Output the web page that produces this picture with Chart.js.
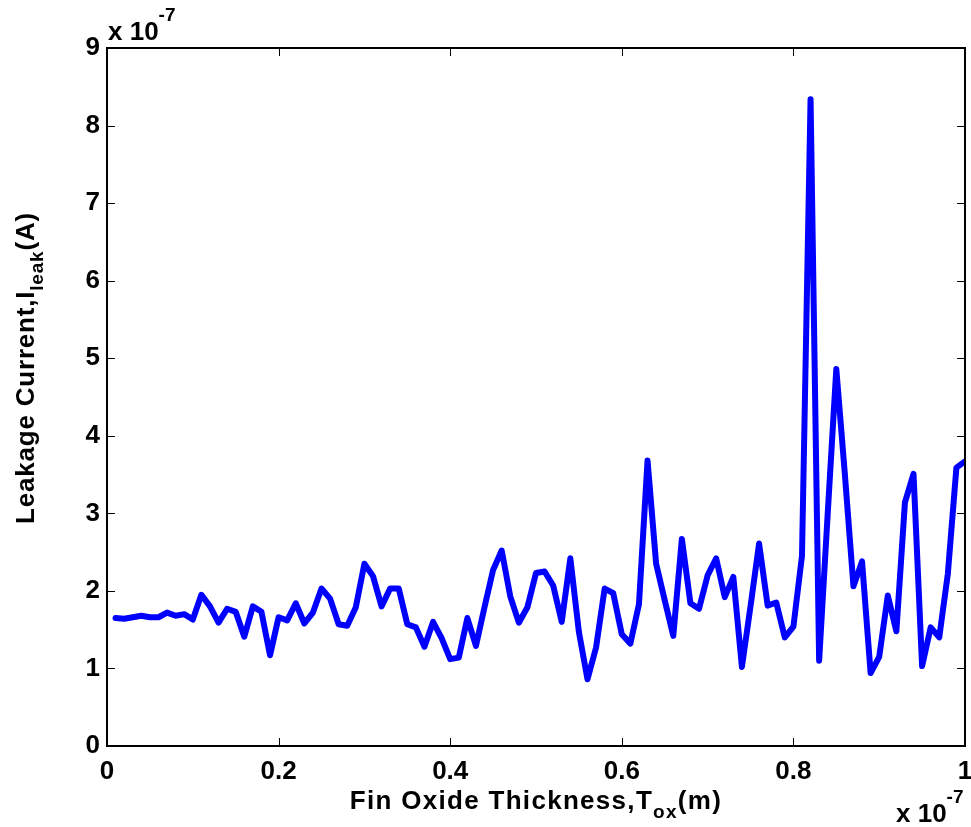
<!DOCTYPE html>
<html>
<head>
<meta charset="utf-8">
<script src="https://cdn.jsdelivr.net/npm/chart.js"></script>
<style>
  html, body { margin: 0; padding: 0; background: #fff; }
  canvas { display: block; }
</style>
</head>
<body>
<canvas id="myChart" width="971" height="827"></canvas>
<script>
// fin oxide thickness (x 1e-7 m)
const thickness = [
  0.01, 0.02, 0.03, 0.04, 0.05, 0.06, 0.07, 0.08, 0.09, 0.10,
  0.11, 0.12, 0.13, 0.14, 0.15, 0.16, 0.17, 0.18, 0.19, 0.20,
  0.21, 0.22, 0.23, 0.24, 0.25, 0.26, 0.27, 0.28, 0.29, 0.30,
  0.31, 0.32, 0.33, 0.34, 0.35, 0.36, 0.37, 0.38, 0.39, 0.40,
  0.41, 0.42, 0.43, 0.44, 0.45, 0.46, 0.47, 0.48, 0.49, 0.50,
  0.51, 0.52, 0.53, 0.54, 0.55, 0.56, 0.57, 0.58, 0.59, 0.60,
  0.61, 0.62, 0.63, 0.64, 0.65, 0.66, 0.67, 0.68, 0.69, 0.70,
  0.71, 0.72, 0.73, 0.74, 0.75, 0.76, 0.77, 0.78, 0.79, 0.80,
  0.81, 0.82, 0.83, 0.84, 0.85, 0.86, 0.87, 0.88, 0.89, 0.90,
  0.91, 0.92, 0.93, 0.94, 0.95, 0.96, 0.97, 0.98, 0.99, 1.00
];

// leakage current (x 1e-7 A)
const leakage = [
  1.65, 1.64, 1.66, 1.68, 1.66, 1.66, 1.72, 1.68, 1.70, 1.63,
  1.95, 1.80, 1.59, 1.77, 1.73, 1.41, 1.80, 1.73, 1.17, 1.66,
  1.62, 1.84, 1.58, 1.72, 2.03, 1.90, 1.57, 1.55, 1.79, 2.35,
  2.19, 1.80, 2.03, 2.03, 1.57, 1.53, 1.28, 1.60, 1.39, 1.12,
  1.14, 1.65, 1.29, 1.79, 2.27, 2.52, 1.93, 1.59, 1.79, 2.23,
  2.25, 2.07, 1.60, 2.42, 1.47, 0.86, 1.27, 2.03, 1.97, 1.44,
  1.32, 1.83, 3.68, 2.35, 1.88, 1.42, 2.67, 1.84, 1.77, 2.20,
  2.42, 1.92, 2.18, 1.02, 1.80, 2.61, 1.81, 1.85, 1.40, 1.54,
  2.45, 8.34, 1.10, 3.00, 4.86, 3.50, 2.06, 2.38, 0.94, 1.15,
  1.94, 1.48, 3.14, 3.51, 1.03, 1.53, 1.40, 2.22, 3.59, 3.67
];

const xTicks = [0, 0.2, 0.4, 0.6, 0.8, 1];
const yTicks = [0, 1, 2, 3, 4, 5, 6, 7, 8, 9];

const FONT = '"Liberation Sans", Arial, Helvetica, sans-serif';

// draw a label made of normal / subscript / superscript pieces, centred on cx
function drawRich(ctx, parts, cx, baseY, size, align, spacing) {
  ctx.letterSpacing = (spacing || 0) + 'px';
  let total = 0;
  parts.forEach(p => {
    const s = p.sub || p.sup ? Math.round(size * 0.72) : size;
    ctx.font = 'bold ' + s + 'px ' + FONT;
    p._w = ctx.measureText(p.text).width;
    p._s = s;
    total += p._w;
  });
  let x = align === 'left' ? cx : cx - total / 2;
  ctx.textAlign = 'left';
  ctx.textBaseline = 'alphabetic';
  parts.forEach(p => {
    ctx.font = 'bold ' + p._s + 'px ' + FONT;
    let y = baseY;
    if (p.sub) y += size * 0.36;
    if (p.sup) y -= size * 0.75;
    ctx.fillText(p.text, x, y);
    x += p._w;
  });
  ctx.letterSpacing = '0px';
}

const matlabAxes = {
  id: 'matlabAxes',
  afterDraw(chart) {
    const { ctx, chartArea: a, scales } = chart;
    ctx.save();
    ctx.strokeStyle = '#000';
    ctx.lineWidth = 2;
    ctx.strokeRect(a.left, a.top, a.right - a.left, a.bottom - a.top);

    // inward ticks on all four sides
    ctx.lineWidth = 1;
    const tl = 8;
    xTicks.forEach(v => {
      const px = Math.round(scales.x.getPixelForValue(v)) + 0.5;
      ctx.beginPath();
      ctx.moveTo(px, a.bottom); ctx.lineTo(px, a.bottom - tl);
      ctx.moveTo(px, a.top); ctx.lineTo(px, a.top + tl);
      ctx.stroke();
    });
    yTicks.forEach(v => {
      const py = Math.round(scales.y.getPixelForValue(v)) + 0.5;
      ctx.beginPath();
      ctx.moveTo(a.left, py); ctx.lineTo(a.left + tl, py);
      ctx.moveTo(a.right, py); ctx.lineTo(a.right - tl, py);
      ctx.stroke();
    });

    ctx.fillStyle = '#000';
    // x axis title
    drawRich(ctx, [
      { text: 'Fin Oxide Thickness,T' },
      { text: 'ox', sub: true },
      { text: '(m)' }
    ], (a.left + a.right) / 2, 809, 26, 'center', 1.3);

    // y axis title (rotated)
    ctx.save();
    ctx.translate(34, 368);
    ctx.rotate(-Math.PI / 2);
    drawRich(ctx, [
      { text: 'Leakage Current,I' },
      { text: 'leak', sub: true },
      { text: '(A)' }
    ], 0, 0, 26, 'center', 0.8);
    ctx.restore();

    // exponent multipliers
    drawRich(ctx, [{ text: 'x 10' }, { text: '-7', sup: true }], 108, 40, 26, 'left');
    drawRich(ctx, [{ text: 'x 10' }, { text: '-7', sup: true }], 896, 822, 26, 'left');
    ctx.restore();
  }
};

document.addEventListener('DOMContentLoaded', () => {
  const canvas = document.getElementById('myChart');
  if (!canvas) return;
  const ctx = canvas.getContext('2d');

  new Chart(ctx, {
    type: 'line',
    data: {
      datasets: [{
        data: thickness.map((t, i) => ({ x: t, y: leakage[i] })),
        borderColor: '#0000ff',
        borderWidth: 6,
        borderJoinStyle: 'round',
        borderCapStyle: 'round',
        pointRadius: 0,
        tension: 0,
        fill: false
      }]
    },
    options: {
      responsive: false,
      animation: false,
      layout: { padding: { top: 48, right: 6, left: 0, bottom: 0 } },
      plugins: {
        legend: { display: false },
        tooltip: { enabled: false }
      },
      scales: {
        x: {
          type: 'linear',
          min: 0,
          max: 1,
          afterFit: s => { s.height = 81; s.paddingLeft = 0; s.paddingRight = 0; },
          afterBuildTicks: s => { s.ticks = xTicks.map(v => ({ value: v })); },
          grid: { display: false, drawTicks: false },
          border: { display: false },
          ticks: {
            color: '#000',
            padding: 10,
            maxRotation: 0,
            callback: v => String(v),
            font: { family: FONT, size: 26, weight: 'bold' }
          }
        },
        y: {
          min: 0,
          max: 9,
          afterFit: s => { s.width = 107; s.paddingTop = 0; s.paddingBottom = 0; },
          afterBuildTicks: s => { s.ticks = yTicks.map(v => ({ value: v })); },
          grid: { display: false, drawTicks: false },
          border: { display: false },
          ticks: {
            color: '#000',
            padding: 7,
            callback: v => String(v),
            font: { family: FONT, size: 26, weight: 'bold' }
          }
        }
      }
    },
    plugins: [matlabAxes]
  });
});
</script>
</body>
</html>
